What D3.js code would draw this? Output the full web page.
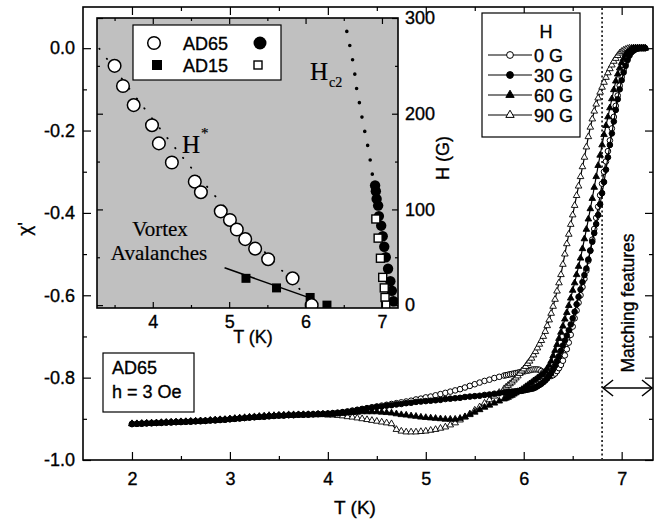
<!DOCTYPE html>
<html>
<head>
<meta charset="utf-8">
<script src="https://cdn.jsdelivr.net/npm/d3@7"></script>
<style>
body { margin: 0; background: #fff; }
text { font-family: "Liberation Sans", Arial, sans-serif; stroke: #000; stroke-width: 0.35px; }
</style>
</head>
<body>
<script>
// ---- main panel: chi' vs T, AD65, h = 3 Oe, four dc fields ----
// temperatures (K): coarse grid below 5.8 K, finer grid through the transition
const tLow = [2.00,2.05,2.10,2.15,2.20,2.25,2.30,2.35,2.40,2.45,2.50,2.55,2.60,2.65,2.70,2.75,2.80,2.85,2.90,2.95,
    3.00,3.05,3.10,3.15,3.20,3.25,3.30,3.35,3.40,3.45,3.50,3.55,3.60,3.65,3.70,3.75,3.80,3.85,3.90,3.95,
    4.00,4.05,4.10,4.15,4.20,4.25,4.30,4.35,4.40,4.45,4.50,4.55,4.60,4.65,4.70,4.75,4.80,4.85,4.90,4.95,
    5.00,5.05,5.10,5.15,5.20,5.25,5.30,5.35,5.40,5.45,5.50,5.55,5.60,5.65,5.70,5.75,5.80];
const tHigh = [5.82,5.84,5.86,5.88,5.90,5.92,5.94,5.96,5.98,6.00,6.02,6.04,6.06,6.08,6.10,6.12,6.14,6.16,6.18,6.20,
    6.22,6.24,6.26,6.28,6.30,6.32,6.34,6.36,6.38,6.40,6.42,6.44,6.46,6.48,6.50,6.52,6.54,6.56,6.58,6.60,
    6.62,6.64,6.66,6.68,6.70,6.72,6.74,6.76,6.78,6.80,6.82,6.84,6.86,6.88,6.90,6.92,6.94,6.96,6.98,7.00,
    7.02,7.04,7.06,7.08,7.10,7.12,7.14,7.16,7.18,7.20,7.22,7.24];

const chi0GLow = [-0.912,-0.912,-0.911,-0.911,-0.910,-0.910,-0.909,-0.909,-0.908,-0.908,-0.907,-0.907,-0.906,-0.906,-0.905,-0.905,-0.904,-0.903,-0.902,-0.902,
    -0.901,-0.900,-0.899,-0.898,-0.897,-0.896,-0.895,-0.894,-0.893,-0.893,-0.892,-0.892,-0.891,-0.891,-0.890,-0.890,-0.889,-0.889,-0.888,-0.888,
    -0.887,-0.886,-0.885,-0.884,-0.882,-0.880,-0.878,-0.876,-0.874,-0.872,-0.870,-0.868,-0.866,-0.864,-0.862,-0.860,-0.858,-0.856,-0.853,-0.851,
    -0.848,-0.846,-0.843,-0.840,-0.837,-0.834,-0.831,-0.828,-0.824,-0.820,-0.816,-0.812,-0.808,-0.805,-0.801,-0.798,-0.795];
const chi0GHigh = [-0.794,-0.793,-0.792,-0.791,-0.790,-0.789,-0.788,-0.787,-0.786,-0.785,-0.784,-0.783,-0.782,-0.781,-0.780,-0.780,-0.780,-0.781,-0.784,-0.787,
    -0.790,-0.793,-0.795,-0.796,-0.794,-0.790,-0.784,-0.777,-0.769,-0.759,-0.746,-0.731,-0.715,-0.696,-0.676,-0.656,-0.637,-0.618,-0.600,-0.580,
    -0.560,-0.540,-0.516,-0.491,-0.465,-0.439,-0.412,-0.385,-0.357,-0.329,-0.300,-0.275,-0.250,-0.224,-0.195,-0.167,-0.140,-0.115,-0.091,-0.070,
    -0.053,-0.038,-0.025,-0.015,-0.009,-0.005,-0.002,-0.001,0.000,0.000,0.000,0.000];

const chi30GLow = [-0.913,-0.912,-0.912,-0.911,-0.911,-0.910,-0.910,-0.909,-0.909,-0.908,-0.908,-0.907,-0.907,-0.906,-0.906,-0.905,-0.904,-0.904,-0.903,-0.902,
    -0.901,-0.900,-0.899,-0.898,-0.897,-0.896,-0.895,-0.895,-0.894,-0.893,-0.892,-0.892,-0.891,-0.891,-0.890,-0.890,-0.890,-0.889,-0.889,-0.888,
    -0.888,-0.887,-0.886,-0.884,-0.883,-0.881,-0.879,-0.877,-0.875,-0.873,-0.871,-0.870,-0.868,-0.867,-0.865,-0.864,-0.862,-0.861,-0.859,-0.858,
    -0.857,-0.856,-0.855,-0.854,-0.852,-0.851,-0.850,-0.849,-0.847,-0.846,-0.845,-0.844,-0.842,-0.841,-0.839,-0.838,-0.836];
const chi30GHigh = [-0.836,-0.835,-0.835,-0.834,-0.834,-0.833,-0.833,-0.832,-0.832,-0.831,-0.830,-0.829,-0.828,-0.827,-0.826,-0.824,-0.821,-0.818,-0.815,-0.811,
    -0.807,-0.802,-0.796,-0.789,-0.780,-0.771,-0.760,-0.748,-0.735,-0.722,-0.710,-0.698,-0.685,-0.671,-0.656,-0.640,-0.622,-0.604,-0.586,-0.568,
    -0.551,-0.535,-0.513,-0.492,-0.470,-0.449,-0.427,-0.405,-0.379,-0.352,-0.325,-0.295,-0.265,-0.235,-0.207,-0.178,-0.150,-0.124,-0.100,-0.078,
    -0.059,-0.043,-0.029,-0.018,-0.010,-0.006,-0.003,-0.001,0.000,0.000,0.000,0.000];

const chi60GLow = [-0.912,-0.912,-0.912,-0.911,-0.911,-0.910,-0.910,-0.909,-0.909,-0.908,-0.908,-0.907,-0.907,-0.906,-0.905,-0.905,-0.904,-0.903,-0.902,-0.902,
    -0.901,-0.900,-0.899,-0.898,-0.897,-0.897,-0.896,-0.895,-0.894,-0.893,-0.893,-0.892,-0.892,-0.891,-0.891,-0.890,-0.890,-0.890,-0.889,-0.889,
    -0.889,-0.889,-0.888,-0.887,-0.886,-0.885,-0.884,-0.883,-0.883,-0.883,-0.883,-0.884,-0.885,-0.886,-0.888,-0.890,-0.891,-0.893,-0.894,-0.896,
    -0.897,-0.898,-0.899,-0.900,-0.901,-0.901,-0.901,-0.899,-0.895,-0.890,-0.884,-0.878,-0.872,-0.867,-0.862,-0.857,-0.852];
const chi60GHigh = [-0.850,-0.848,-0.845,-0.843,-0.840,-0.837,-0.834,-0.832,-0.829,-0.826,-0.822,-0.819,-0.815,-0.812,-0.808,-0.805,-0.801,-0.798,-0.794,-0.790,
    -0.785,-0.778,-0.770,-0.760,-0.747,-0.734,-0.720,-0.705,-0.690,-0.675,-0.658,-0.642,-0.625,-0.607,-0.588,-0.570,-0.550,-0.530,-0.510,-0.487,
    -0.463,-0.440,-0.415,-0.390,-0.365,-0.338,-0.312,-0.285,-0.260,-0.235,-0.210,-0.188,-0.167,-0.145,-0.123,-0.101,-0.080,-0.063,-0.048,-0.035,
    -0.025,-0.016,-0.010,-0.005,-0.002,0.000,0.000,0.000,0.000,0.000,0.000,0.000];

const chi90GLow = [-0.912,-0.912,-0.911,-0.911,-0.910,-0.910,-0.909,-0.909,-0.908,-0.908,-0.907,-0.907,-0.906,-0.906,-0.905,-0.905,-0.904,-0.903,-0.903,-0.902,
    -0.900,-0.899,-0.898,-0.897,-0.896,-0.895,-0.894,-0.893,-0.892,-0.892,-0.891,-0.891,-0.890,-0.890,-0.890,-0.890,-0.890,-0.890,-0.890,-0.890,
    -0.891,-0.891,-0.892,-0.893,-0.895,-0.896,-0.898,-0.900,-0.902,-0.904,-0.906,-0.908,-0.910,-0.912,-0.926,-0.930,-0.932,-0.932,-0.932,-0.931,
    -0.930,-0.928,-0.926,-0.923,-0.920,-0.915,-0.910,-0.903,-0.896,-0.888,-0.879,-0.871,-0.862,-0.854,-0.845,-0.836,-0.827];
const chi90GHigh = [-0.823,-0.819,-0.815,-0.811,-0.806,-0.801,-0.796,-0.790,-0.784,-0.779,-0.773,-0.766,-0.760,-0.753,-0.745,-0.737,-0.728,-0.719,-0.710,-0.700,
    -0.688,-0.674,-0.660,-0.644,-0.627,-0.610,-0.590,-0.570,-0.550,-0.525,-0.500,-0.475,-0.452,-0.428,-0.405,-0.382,-0.358,-0.335,-0.312,-0.288,
    -0.265,-0.240,-0.215,-0.192,-0.172,-0.153,-0.136,-0.121,-0.107,-0.095,-0.083,-0.071,-0.060,-0.050,-0.041,-0.032,-0.025,-0.018,-0.012,-0.008,
    -0.005,-0.003,-0.001,0.000,0.000,0.000,0.000,0.000,0.000,0.000,0.000,0.000];

const fieldLabels = ["0 G", "30 G", "60 G", "90 G"];
const xTicks = [2, 3, 4, 5, 6, 7];
const xMinor = [2.5, 3.5, 4.5, 5.5, 6.5];
const yTicks = [-1.0, -0.8, -0.6, -0.4, -0.2, 0.0];
const yMinor = [-0.9, -0.7, -0.5, -0.3, -0.1];
const matchT = 6.8;

// ---- inset: H-T phase diagram ----
const hStarAD65 = [[3.50,250],[3.61,229],[3.75,209],[3.99,188],[4.08,169],[4.25,149],[4.55,129],[4.63,118],[4.89,98],[5.01,89],[5.10,79],[5.21,69],[5.34,59],[5.51,48],[5.83,28],[6.08,0]];
const hStarGuide = [[3.30,268],[3.60,236],[4.00,194],[4.50,143],[5.00,97],[5.50,52],[5.80,27],[6.10,2]];
const hc2Guide = [[6.54,286],[6.58,271],[6.62,255],[6.65,239],[6.67,223],[6.72,207],[6.75,189],[6.80,174],[6.83,158],[6.87,142],[6.88,130]];
const hc2AD65 = [[6.91,125],[6.92,119],[6.93,111],[6.95,104],[6.96,93],[6.99,83],[7.01,72],[7.03,61],[7.05,50],[7.08,38],[7.11,25],[7.13,15],[7.15,4]];
const hc2AD15 = [[6.92,90],[6.95,70],[6.98,49],[7.01,29],[7.03,18],[7.04,8],[7.05,0]];
const avalAD15 = [[5.22,28],[5.62,18],[6.06,8],[6.28,0]];
const avalFit = [[4.94,39],[6.11,6]];
const insetXTicks = [4, 5, 6, 7];
const insetXMinor = [3.5, 4.5, 5.5, 6.5];
const insetYTicks = [0, 100, 200, 300];
const insetYMinor = [50, 150, 250];

const width = 660, height = 520;
const svg = d3.select("body").append("svg")
    .attr("width", width)
    .attr("height", height);

const x = d3.scaleLinear().domain([1.5, 7.32]).range([83, 653]);
const y = d3.scaleLinear().domain([-1.0, 0.1]).range([460, 7]);

function styleAxis(g, size) {
    g.select(".domain").remove();
    g.selectAll("line").attr("stroke", "#000").attr("stroke-width", 1.2);
    g.attr("font-size", size);
    g.selectAll("text").attr("fill", "#000");
}

// main axes, ticks inward on all four sides
svg.append("g").attr("transform", "translate(0,460)")
    .call(d3.axisBottom(x).tickValues(xTicks).tickSize(-8).tickPadding(12).tickFormat(d3.format("d")))
    .call(g => styleAxis(g, 18));
svg.append("g").attr("transform", "translate(0,460)")
    .call(d3.axisBottom(x).tickValues(xMinor).tickSize(-4).tickFormat(""))
    .call(g => styleAxis(g, 18));
svg.append("g").attr("transform", "translate(0,7)")
    .call(d3.axisTop(x).tickValues(xTicks).tickSize(-8).tickFormat(""))
    .call(g => styleAxis(g, 18));
svg.append("g").attr("transform", "translate(0,7)")
    .call(d3.axisTop(x).tickValues(xMinor).tickSize(-4).tickFormat(""))
    .call(g => styleAxis(g, 18));
svg.append("g").attr("transform", "translate(83,0)")
    .call(d3.axisLeft(y).tickValues(yTicks).tickSize(-8).tickPadding(8).tickFormat(d => d.toFixed(1)))
    .call(g => styleAxis(g, 18));
svg.append("g").attr("transform", "translate(83,0)")
    .call(d3.axisLeft(y).tickValues(yMinor).tickSize(-4).tickFormat(""))
    .call(g => styleAxis(g, 18));
svg.append("g").attr("transform", "translate(653,0)")
    .call(d3.axisRight(y).tickValues(yTicks).tickSize(-8).tickFormat(""))
    .call(g => styleAxis(g, 18));
svg.append("g").attr("transform", "translate(653,0)")
    .call(d3.axisRight(y).tickValues(yMinor).tickSize(-4).tickFormat(""))
    .call(g => styleAxis(g, 18));

// dotted marker line at the matching temperature
svg.append("line")
    .attr("x1", x(matchT)).attr("x2", x(matchT))
    .attr("y1", 8).attr("y2", 459)
    .attr("stroke", "#000").attr("stroke-width", 1.5)
    .attr("stroke-dasharray", "2,2.5");

// curves (legend order kept separately; filled markers drawn last)
const line = d3.line().x(d => x(d[0])).y(d => y(d[1]));
const s0 = { data: d3.zip(tLow.concat(tHigh), chi0GLow.concat(chi0GHigh)), shape: "circ", fill: "#fff" };
const s30 = { data: d3.zip(tLow.concat(tHigh), chi30GLow.concat(chi30GHigh)), shape: "circ", fill: "#000" };
const s60 = { data: d3.zip(tLow.concat(tHigh), chi60GLow.concat(chi60GHigh)), shape: "tri", fill: "#000" };
const s90 = { data: d3.zip(tLow.concat(tHigh), chi90GLow.concat(chi90GHigh)), shape: "tri", fill: "#fff" };
const legendSeries = [s0, s30, s60, s90];
const triSmall = d3.symbol().type(d3.symbolTriangle).size(19);
[s0, s90, s30, s60].forEach(s => {
    svg.append("path").datum(s.data)
        .attr("d", line)
        .attr("fill", "none").attr("stroke", "#000").attr("stroke-width", 1.2);
    if (s.shape === "circ") {
        svg.append("g").selectAll("circle").data(s.data).join("circle")
            .attr("cx", d => x(d[0])).attr("cy", d => y(d[1])).attr("r", 2.8)
            .attr("fill", s.fill).attr("stroke", "#000").attr("stroke-width", 1);
    } else {
        svg.append("g").selectAll("path").data(s.data).join("path")
            .attr("d", triSmall)
            .attr("transform", d => `translate(${x(d[0])},${y(d[1])})`)
            .attr("fill", s.fill).attr("stroke", "#000").attr("stroke-width", 0.9);
    }
});

// frame
svg.append("rect").attr("x", 83).attr("y", 7).attr("width", 570).attr("height", 453)
    .attr("fill", "none").attr("stroke", "#000").attr("stroke-width", 1.6);

// axis titles
svg.append("text").attr("x", 355).attr("y", 514).attr("text-anchor", "middle")
    .attr("font-size", 19).text("T (K)");
svg.append("text").attr("transform", "translate(31,229) rotate(-90)").attr("text-anchor", "middle")
    .attr("font-size", 19).text("\u03c7'");

// field legend
const leg = svg.append("g");
leg.append("rect").attr("x", 482).attr("y", 13).attr("width", 98).attr("height", 124)
    .attr("fill", "#fff").attr("stroke", "#000").attr("stroke-width", 1.2);
leg.append("text").attr("x", 546).attr("y", 38).attr("text-anchor", "middle")
    .attr("font-size", 18).text("H");
const triBig = d3.symbol().type(d3.symbolTriangle).size(30);
legendSeries.forEach((s, i) => {
    const ly = 55 + i * 20;
    leg.append("line").attr("x1", 488).attr("x2", 532).attr("y1", ly).attr("y2", ly)
        .attr("stroke", "#000").attr("stroke-width", 1.2);
    if (s.shape === "circ") {
        leg.append("circle").attr("cx", 510).attr("cy", ly).attr("r", 3.4)
            .attr("fill", s.fill).attr("stroke", "#000");
    } else {
        leg.append("path").attr("d", triBig).attr("transform", `translate(510,${ly})`)
            .attr("fill", s.fill).attr("stroke", "#000");
    }
    leg.append("text").attr("x", 534).attr("y", ly + 6.5).attr("font-size", 18).text(fieldLabels[i]);
});

// sample box
svg.append("rect").attr("x", 103).attr("y", 353).attr("width", 91).attr("height", 59)
    .attr("fill", "#fff").attr("stroke", "#000").attr("stroke-width", 1.2);
svg.append("text").attr("x", 112).attr("y", 374).attr("font-size", 18).text("AD65");
svg.append("text").attr("x", 112).attr("y", 398).attr("font-size", 18).text("h = 3 Oe");

// double arrow and label
const ay = 388, ax1 = x(matchT) + 1, ax2 = 652;
svg.append("line").attr("x1", ax1).attr("x2", ax2).attr("y1", ay).attr("y2", ay)
    .attr("stroke", "#000").attr("stroke-width", 1.5);
svg.append("path").attr("d", `M${ax1 + 10},${ay - 8}L${ax1},${ay}L${ax1 + 10},${ay + 8}`)
    .attr("fill", "none").attr("stroke", "#000").attr("stroke-width", 1.5);
svg.append("path").attr("d", `M${ax2 - 10},${ay - 8}L${ax2},${ay}L${ax2 - 10},${ay + 8}`)
    .attr("fill", "none").attr("stroke", "#000").attr("stroke-width", 1.5);
svg.append("text").attr("transform", "translate(634,303) rotate(-90)").attr("text-anchor", "middle")
    .attr("font-size", 17.5).text("Matching features");

// ---------------- inset ----------------
const ix = d3.scaleLinear().domain([3.27, 7.21]).range([97, 398]);
const iy = d3.scaleLinear().domain([-3, 300]).range([308, 18]);
const inset = svg.append("g");
inset.append("rect").attr("x", 97).attr("y", 18).attr("width", 301).attr("height", 290)
    .attr("fill", "#c0c0c0");
inset.append("clipPath").attr("id", "insetClip")
    .append("rect").attr("x", 97).attr("y", 18).attr("width", 301).attr("height", 290);
const ip = inset.append("g").attr("clip-path", "url(#insetClip)");

inset.append("g").attr("transform", "translate(0,308)")
    .call(d3.axisBottom(ix).tickValues(insetXTicks).tickSize(-6).tickPadding(7).tickFormat(d3.format("d")))
    .call(g => styleAxis(g, 18));
inset.append("g").attr("transform", "translate(0,308)")
    .call(d3.axisBottom(ix).tickValues(insetXMinor).tickSize(-3).tickFormat(""))
    .call(g => styleAxis(g, 18));
inset.append("g").attr("transform", "translate(0,18)")
    .call(d3.axisTop(ix).tickValues(insetXTicks).tickSize(-6).tickFormat(""))
    .call(g => styleAxis(g, 18));
inset.append("g").attr("transform", "translate(0,18)")
    .call(d3.axisTop(ix).tickValues(insetXMinor).tickSize(-3).tickFormat(""))
    .call(g => styleAxis(g, 18));
inset.append("g").attr("transform", "translate(398,0)")
    .call(d3.axisRight(iy).tickValues(insetYTicks).tickSize(-6).tickPadding(7).tickFormat(d3.format("d")))
    .call(g => styleAxis(g, 18));
inset.append("g").attr("transform", "translate(398,0)")
    .call(d3.axisRight(iy).tickValues(insetYMinor).tickSize(-3).tickFormat(""))
    .call(g => styleAxis(g, 18));
inset.append("g").attr("transform", "translate(97,0)")
    .call(d3.axisLeft(iy).tickValues(insetYTicks).tickSize(-6).tickFormat(""))
    .call(g => styleAxis(g, 18));
inset.append("g").attr("transform", "translate(97,0)")
    .call(d3.axisLeft(iy).tickValues(insetYMinor).tickSize(-3).tickFormat(""))
    .call(g => styleAxis(g, 18));

ip.append("path").datum(hStarGuide)
    .attr("d", d3.line().x(d => ix(d[0])).y(d => iy(d[1])).curve(d3.curveBasis))
    .attr("fill", "none").attr("stroke", "#000").attr("stroke-width", 1.8)
    .attr("stroke-linecap", "round").attr("stroke-dasharray", "0.5,12");
ip.append("path").datum(hc2Guide)
    .attr("d", d3.line().x(d => ix(d[0])).y(d => iy(d[1])).curve(d3.curveBasis))
    .attr("fill", "none").attr("stroke", "#000").attr("stroke-width", 3.6)
    .attr("stroke-linecap", "round").attr("stroke-dasharray", "0,14.5");
ip.append("path").datum(avalFit)
    .attr("d", d3.line().x(d => ix(d[0])).y(d => iy(d[1])))
    .attr("fill", "none").attr("stroke", "#000").attr("stroke-width", 1.5);

ip.append("g").selectAll("circle").data(hc2AD65).join("circle")
    .attr("cx", d => ix(d[0])).attr("cy", d => iy(d[1])).attr("r", 5.2).attr("fill", "#000");
ip.append("g").selectAll("rect").data(hc2AD15).join("rect")
    .attr("x", d => ix(d[0]) - 4).attr("y", d => iy(d[1]) - 4).attr("width", 8).attr("height", 8)
    .attr("fill", "#fff").attr("stroke", "#000").attr("stroke-width", 1.4);
ip.append("g").selectAll("rect").data(avalAD15).join("rect")
    .attr("x", d => ix(d[0]) - 4.5).attr("y", d => iy(d[1]) - 4.5).attr("width", 9).attr("height", 9)
    .attr("fill", "#000");
ip.append("g").selectAll("circle").data(hStarAD65).join("circle")
    .attr("cx", d => ix(d[0])).attr("cy", d => iy(d[1])).attr("r", 6.3)
    .attr("fill", "#fff").attr("stroke", "#000").attr("stroke-width", 1.5);

inset.append("rect").attr("x", 97).attr("y", 18).attr("width", 301).attr("height", 290)
    .attr("fill", "none").attr("stroke", "#000").attr("stroke-width", 1.6);

// inset legend
inset.append("rect").attr("x", 133).attr("y", 25).attr("width", 148).attr("height", 55)
    .attr("fill", "#fff").attr("stroke", "#000").attr("stroke-width", 1.2);
inset.append("circle").attr("cx", 154).attr("cy", 43).attr("r", 6.3)
    .attr("fill", "#fff").attr("stroke", "#000").attr("stroke-width", 1.5);
inset.append("circle").attr("cx", 260).attr("cy", 43).attr("r", 6.5).attr("fill", "#000");
inset.append("rect").attr("x", 152).attr("y", 60).attr("width", 10).attr("height", 10).attr("fill", "#000");
inset.append("rect").attr("x", 254).attr("y", 61).attr("width", 8).attr("height", 8)
    .attr("fill", "#fff").attr("stroke", "#000").attr("stroke-width", 1.4);
inset.append("text").attr("x", 183).attr("y", 50).attr("font-size", 18).text("AD65");
inset.append("text").attr("x", 183).attr("y", 72).attr("font-size", 18).text("AD15");

// inset annotations (serif, as in the original)
const serif = "'Liberation Serif', 'Times New Roman', serif";
function serifText(tx, ty, size, str, anchor) {
    return inset.append("text").attr("x", tx).attr("y", ty)
        .attr("text-anchor", anchor || "start")
        .style("font-family", serif).style("stroke-width", "0.2px")
        .attr("font-size", size).text(str);
}
serifText(182, 153, 25, "H");
serifText(201, 138, 15, "*");
serifText(310, 80, 25, "H");
serifText(329, 87, 14, "c2");
serifText(160, 236, 21, "Vortex", "middle");
serifText(159, 260, 21, "Avalanches", "middle");

inset.append("text").attr("x", 253).attr("y", 343).attr("text-anchor", "middle")
    .attr("font-size", 18).text("T (K)");
inset.append("text").attr("transform", "translate(449,158) rotate(-90)").attr("text-anchor", "middle")
    .attr("font-size", 18).text("H (G)");
</script>
</body>
</html>
